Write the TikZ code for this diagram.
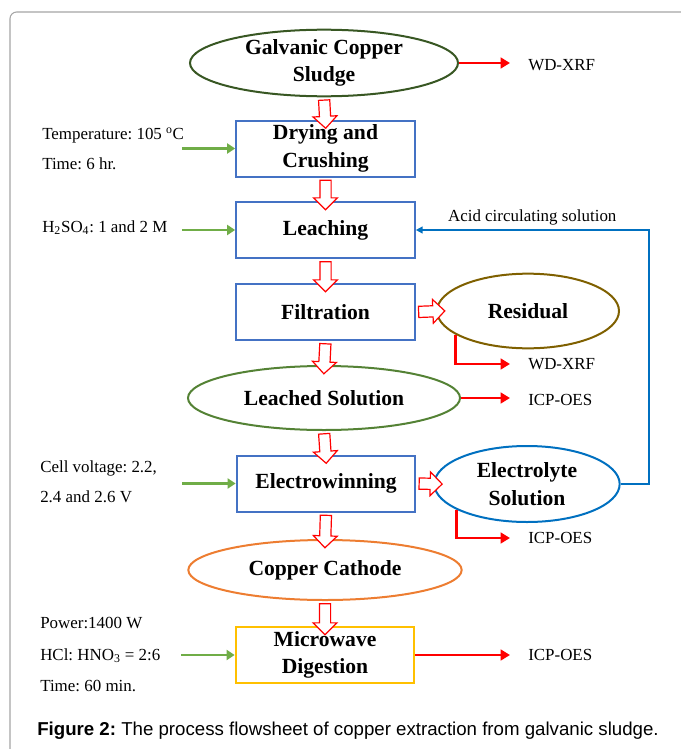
\documentclass[tikz,border=0pt]{standalone}
\usepackage{fontspec}
\setmainfont{Liberation Serif}
\newfontfamily\capfont{Liberation Sans}
\usepackage{tikz}
\usetikzlibrary{shapes.geometric, shapes.arrows, arrows.meta, positioning, calc}
\definecolor{boxblue}{RGB}{68,114,196}
\definecolor{sludgegreen}{RGB}{56,87,35}
\definecolor{leachgreen}{RGB}{84,130,53}
\definecolor{resbrown}{RGB}{127,96,0}
\definecolor{elecblue}{RGB}{0,112,192}
\definecolor{cathorange}{RGB}{237,125,49}
\definecolor{microgold}{RGB}{255,192,0}
\definecolor{ingreen}{RGB}{112,173,71}
\definecolor{outred}{RGB}{255,0,0}
\definecolor{framegray}{RGB}{165,165,165}
\frenchspacing
\tikzset{
  procbox/.style={rectangle, draw=boxblue, line width=1.5pt,
    minimum width=134pt, minimum height=42pt, inner sep=0pt,
    align=center, font=\bfseries\fontsize{16.2}{20.5}\selectfont},
  prodell/.style={ellipse, line width=1.5pt, inner sep=0pt,
    align=center, font=\bfseries\fontsize{16.2}{20.5}\selectfont},
  flowarrow/.style={single arrow, draw=outred, fill=white, line width=0.9pt,
    minimum width=17pt, single arrow head extend=4.75pt,
    single arrow head indent=0pt, inner xsep=0pt, inner ysep=3.75pt},
  inarrow/.style={-{Triangle[length=6pt,width=7.5pt]}, ingreen, line width=2.2pt},
  outarrow/.style={-{Triangle[length=7pt,width=8pt]}, outred, line width=2.2pt,
    shorten >=13.5pt},
  circarrow/.style={-{Triangle[length=5pt,width=5pt]}, elecblue, line width=1.5pt},
  sidetext/.style={anchor=base west, inner sep=0pt, font=\fontsize{12.7}{15}\selectfont},
  outlabel/.style={anchor=west, inner sep=0pt, font=\fontsize{12.7}{15}\selectfont}
}
% hollow block arrow between two points
\newcommand{\flowto}[2]{%
  \path let \p1=($(#2)-(#1)$), \n1={veclen(\x1,\y1)}, \n2={atan2(\y1,\x1)} in
    node[flowarrow, minimum height=\n1, rotate=\n2] at ($(#1)!.5!(#2)$) {};}

\begin{document}
\begin{tikzpicture}[x=0.75pt, y=-0.75pt]
  \useasboundingbox (0,0) rectangle (681,749);
  \draw[framegray, line width=0.8pt, rounded corners=5pt] (10,749) -- (10,12) -- (681,12);

  % Main process line
  \node[prodell, draw=sludgegreen, minimum width=201pt, minimum height=49.5pt] (sludge) at (324,63) {Galvanic Copper\\Sludge};
  \node[procbox] (dry) at (325.5,148.5) {Drying and\\Crushing};
  \node[procbox] (leach) at (325.5,230) {Leaching};
  \node[procbox] (filt) at (325.5,312) {Filtration};
  \node[prodell, draw=resbrown, minimum width=136.5pt, minimum height=56pt] (resid) at (528,311) {Residual};
  \node[prodell, draw=leachgreen, minimum width=204pt, minimum height=48pt] (leached) at (324,398) {Leached Solution};
  \node[procbox] (ewin) at (326,483.5) {Electrowinning};
  \node[prodell, draw=elecblue, minimum width=139pt, minimum height=57pt] (elec) at (527,484) {Electrolyte\\Solution};
  \node[prodell, draw=cathorange, minimum width=205pt, minimum height=45pt] (cathode) at (325,570) {Copper Cathode};
  \node[procbox, draw=microgold] (micro) at (325,655) {Microwave\\Digestion};

  % Block arrows
  \flowto{sludge.south}{[yshift=-4.5pt]dry.north}
  \flowto{dry.south}{[yshift=-4.5pt]leach.north}
  \flowto{leach.south}{[yshift=-4.5pt]filt.north}
  \flowto{filt.east}{[xshift=4.5pt]resid.west}
  \flowto{filt.south}{[yshift=-4.5pt]leached.north}
  \flowto{leached.south}{[yshift=-4.5pt]ewin.north}
  \flowto{ewin.east}{[xshift=4.5pt]elec.west}
  \flowto{ewin.south}{[yshift=-4.5pt]cathode.north}
  \flowto{cathode.south}{[yshift=-4.5pt]micro.north}

  % Conditions
  \node[sidetext] (tempr) at (42,139) {Temperature: 105 \textsuperscript{o}C};
  \node[sidetext] (dtime) at (42,169) {Time: 6 hr.};
  \node[sidetext] (acid) at (42,232) {H\textsubscript{2}SO\textsubscript{4}: 1 and 2 M};
  \node[sidetext] (cellv) at (40,472) {Cell voltage: 2.2,};
  \node[sidetext] (volts) at (40,502) {2.4 and 2.6 V};
  \node[sidetext] (power) at (40,628) {Power:1400 W};
  \node[sidetext] (ratio) at (40,660) {HCl: HNO\textsubscript{3} = 2:6};
  \node[sidetext] (mtime) at (40,691) {Time: 60 min.};

  \draw[inarrow] ([xshift=-40pt]dry.west) -- (dry.west);
  \draw[inarrow] ([xshift=-40pt]leach.west) -- (leach.west);
  \draw[inarrow] ([xshift=-40pt]ewin.west) -- (ewin.west);
  \draw[inarrow] ([xshift=-40pt]micro.west) -- (micro.west);

  % Analyses
  \node[outlabel] (xrfa) at (528,65) {WD-XRF};
  \node[outlabel] (xrfb) at (528,364) {WD-XRF};
  \node[outlabel] (icpa) at (528,400) {ICP-OES};
  \node[outlabel] (icpb) at (528,538) {ICP-OES};
  \node[outlabel] (icpc) at (528,655) {ICP-OES};

  \draw[outarrow] (sludge.east) -- (sludge.east -| xrfa.west);
  \draw[outarrow] (resid.198) |- (xrfb.west);
  \draw[outarrow] (leached.east) -- (leached.east -| icpa.west);
  \draw[outarrow] (elec.200) |- (icpb.west);
  \draw[outarrow] (micro.east) -- (icpc.west);

  % Recycle loop
  \draw[circarrow] (elec.east) -- ++(28,0) |- (leach.east)
    node[pos=0.75, above, inner sep=3pt, font=\fontsize{12.7}{15}\selectfont, black] {Acid circulating solution};

  \node[anchor=west, inner sep=0pt, font=\capfont\fontsize{14}{16}\selectfont] (cap) at (37,731)
    {\textbf{Figure 2:} The process flowsheet of copper extraction from galvanic sludge.};
\end{tikzpicture}
\end{document}
